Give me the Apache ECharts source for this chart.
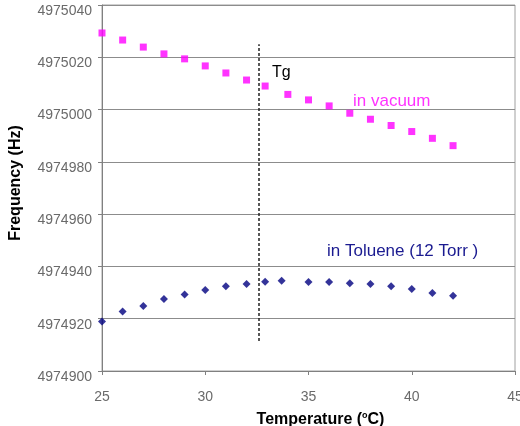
<!DOCTYPE html>
<html>
<head>
<meta charset="utf-8">
<script src="https://cdn.jsdelivr.net/npm/echarts@6/dist/echarts.min.js"></script>
<style>
  html, body { margin: 0; padding: 0; background: #fff; }
  #chart { width: 520px; height: 426px; }
</style>
</head>
<body>
<div id="chart"></div>
<script>
// frequency vs temperature, in vacuum and in toluene
var vacuumT = [25, 26, 27, 28, 29, 30, 31, 32, 32.9, 34, 35, 36, 37, 38, 39, 40, 41, 42];
var vacuumF = [4975029.3, 4975026.6, 4975023.9, 4975021.3, 4975019.4, 4975016.7, 4975014, 4975011.3,
	4975009, 4975005.8, 4975003.7, 4975001.4, 4974998.6, 4974996.3, 4974993.9, 4974991.6, 4974989, 4974986.2];
var tolueneT = [25, 26, 27, 28, 29, 30, 31, 32, 32.9, 33.7, 35, 36, 37, 38, 39, 40, 41, 42];
var tolueneF = [4974918.9, 4974922.8, 4974924.9, 4974927.5, 4974929.3, 4974931, 4974932.4, 4974933.3,
	4974934.1, 4974934.5, 4974934, 4974934, 4974933.6, 4974933.3, 4974932.4, 4974931.4, 4974929.8, 4974928.8];
// Tg marker line
var tgT = 32.6;
var tgRange = [4974911.5, 4975025];

function pairs(xs, ys) {
	var out = [];
	for (var i = 0; i < xs.length; i++) out.push([xs[i], ys[i]]);
	return out;
}

var chart = echarts.init(document.getElementById('chart'));

var option = {
	animation: false,
	grid: {
		left: 102, right: 5, top: 5, bottom: 55,
		outerBoundsMode: 'none',
		show: true, borderColor: '#a0a0a0', borderWidth: 1
	},
	xAxis: {
		type: 'value', min: 25, max: 45, interval: 5,
		axisLine: { show: true, lineStyle: { color: '#808080' } },
		axisTick: { show: true, length: 4, lineStyle: { color: '#808080' } },
		splitLine: { show: false },
		axisLabel: { color: '#6a6a6a', fontSize: 14, fontFamily: 'Liberation Sans', margin: 19 },
		name: '{a|Temperature (}{s|o}{a|C)}',
		nameLocation: 'middle', nameGap: 40,
		nameTextStyle: {
			padding: [0, 0, 0, 24],
			rich: {
				a: { fontSize: 16, fontWeight: 'bold', color: '#000', fontFamily: 'Liberation Sans', lineHeight: 18 },
				s: { fontSize: 9, fontWeight: 'bold', color: '#000', fontFamily: 'Liberation Sans', verticalAlign: 'top', lineHeight: 10 }
			}
		}
	},
	yAxis: {
		type: 'value', min: 4974900, max: 4975040, interval: 20,
		axisLine: { show: true, lineStyle: { color: '#808080' } },
		axisTick: { show: true, length: 4, lineStyle: { color: '#808080' } },
		splitLine: { show: true, lineStyle: { color: '#8c8c8c', width: 1 } },
		axisLabel: {
			color: '#6a6a6a', fontSize: 14, fontFamily: 'Liberation Sans', margin: 10,
			verticalAlign: 'top', lineHeight: 12,
			formatter: function (v) { return String(v); }
		},
		name: 'Frequency (Hz)',
		nameLocation: 'middle', nameGap: 78,
		nameTextStyle: {
			fontSize: 16, fontWeight: 'bold', color: '#000', fontFamily: 'Liberation Sans',
			padding: [0, 0, 0, 10]
		}
	},
	series: [{
		name: 'in vacuum',
		type: 'scatter',
		symbol: 'rect',
		symbolSize: 7,
		itemStyle: { color: '#ff00ff' },
		data: pairs(vacuumT, vacuumF),
		markLine: {
			silent: true,
			symbol: 'none',
			label: { show: false },
			lineStyle: { color: '#222', type: [3, 2], width: 1.5 },
			data: [[{ coord: [tgT, tgRange[0]] }, { coord: [tgT, tgRange[1]] }]]
		}
	}, {
		name: 'in Toluene (12 Torr )',
		type: 'scatter',
		symbol: 'diamond',
		symbolSize: 8,
		itemStyle: { color: '#000080' },
		data: pairs(tolueneT, tolueneF)
	}],
	graphic: [{
		type: 'text', left: 272, top: 65,
		style: { text: 'Tg', fontSize: 16, fill: '#000', fontFamily: 'Liberation Sans' }
	}, {
		type: 'text', left: 353, top: 93,
		style: { text: 'in vacuum', fontSize: 17, fill: '#ff33ff', fontFamily: 'Liberation Sans' }
	}, {
		type: 'text', left: 327, top: 243,
		style: { text: 'in Toluene (12 Torr )', fontSize: 17, fill: '#1a1a90', fontFamily: 'Liberation Sans' }
	}]
};

chart.setOption(option);
</script>
</body>
</html>
